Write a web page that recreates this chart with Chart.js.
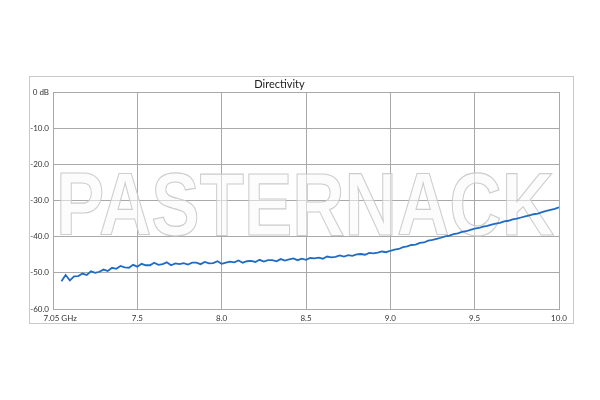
<!DOCTYPE html>
<html>
<head>
<meta charset="utf-8">
<script src="https://cdn.jsdelivr.net/npm/chart.js@4/dist/chart.umd.min.js"></script>
<style>
  html,body{margin:0;padding:0;background:#fff;}
  canvas{display:block;}
</style>
</head>
<body>
<canvas id="mychart" width="600" height="400"></canvas>
<script>
// frequency (GHz) and directivity (dB)
const freqs=[7.050,7.075,7.100,7.125,7.150,7.175,7.200,7.225,7.250,7.275,
  7.300,7.325,7.350,7.375,7.400,7.425,7.450,7.475,7.500,7.525,
  7.550,7.575,7.600,7.625,7.650,7.675,7.700,7.725,7.750,7.775,
  7.800,7.825,7.850,7.875,7.900,7.925,7.950,7.975,8.000,8.025,
  8.050,8.075,8.100,8.125,8.150,8.175,8.200,8.225,8.250,8.275,
  8.300,8.325,8.350,8.375,8.400,8.425,8.450,8.475,8.500,8.525,
  8.550,8.575,8.600,8.625,8.650,8.675,8.700,8.725,8.750,8.775,
  8.800,8.825,8.850,8.875,8.900,8.925,8.950,8.975,9.000,9.025,
  9.050,9.075,9.100,9.125,9.150,9.175,9.200,9.225,9.250,9.275,
  9.300,9.325,9.350,9.375,9.400,9.425,9.450,9.475,9.500,9.525,
  9.550,9.575,9.600,9.625,9.650,9.675,9.700,9.725,9.750,9.775,
  9.800,9.825,9.850,9.875,9.900,9.925,9.950,9.975,10.000];
const directivity=[-52.3,-50.6,-52.1,-51.0,-50.9,-50.2,-50.6,-49.6,-50.0,-49.7,
  -49.1,-49.5,-48.6,-48.9,-48.1,-48.5,-48.6,-47.8,-48.3,-47.5,
  -47.9,-47.9,-47.2,-47.8,-47.6,-47.1,-47.9,-47.4,-47.6,-47.3,
  -47.7,-47.2,-47.2,-47.6,-47.0,-47.4,-47.3,-46.8,-47.5,-47.2,
  -46.9,-47.1,-46.6,-47.2,-46.8,-46.7,-47.0,-46.4,-46.9,-46.5,
  -46.5,-46.8,-46.2,-46.6,-46.3,-46.0,-46.5,-46.1,-46.4,-45.9,
  -46.0,-45.8,-46.1,-45.5,-45.7,-45.6,-45.2,-45.5,-45.1,-45.3,
  -44.9,-44.8,-45.0,-44.5,-44.6,-44.4,-44.1,-44.3,-43.9,-43.6,
  -43.4,-42.9,-42.7,-42.3,-42.2,-41.7,-41.6,-41.1,-40.9,-40.6,
  -40.3,-39.9,-39.7,-39.3,-39.1,-38.7,-38.5,-38.1,-37.8,-37.6,
  -37.2,-37.0,-36.7,-36.4,-36.2,-35.8,-35.6,-35.2,-35.0,-34.7,
  -34.4,-34.1,-33.8,-33.6,-33.2,-32.9,-32.6,-32.3,-31.9];
const xTicks=[7.0,7.5,8.0,8.5,9.0,9.5,10.0];
const xTickLabels=['       7.05 GHz','7.5','8.0','8.5','9.0','9.5','10.0'];
const yTicks=[0,-10,-20,-30,-40,-50,-60];
const yTickLabels=['0 dB','-10.0','-20.0','-30.0','-40.0','-50.0','-60.0'];

const gridColor='#a9a9a9';

// white page, outer frame and the watermark
const framePlugin={
  id:'frame',
  beforeDraw(chart){
    const c=chart.ctx;
    c.save();
    c.fillStyle='#fff';
    c.fillRect(0,0,chart.width,chart.height);
    c.strokeStyle='#c9c9c9';
    c.lineWidth=1;
    c.strokeRect(29.5,76.5,544,247);
    c.restore();
  },
  beforeDatasetsDraw(chart){
    const c=chart.ctx;
    c.save();
    c.font='bold 89px "Liberation Sans", Arial, sans-serif';
    const w=c.measureText('PASTERNACK').width;
    c.translate(56,235);
    c.scale(498/w,1);
    c.fillStyle='rgba(250,250,250,0.55)';
    c.fillText('PASTERNACK',0,0);
    c.strokeStyle='rgba(200,200,200,0.9)';
    c.lineWidth=1.2;
    c.strokeText('PASTERNACK',0,0);
    c.restore();
  }
};

const ctx=document.getElementById('mychart').getContext('2d');
let mychart=new Chart(ctx,{
  type:'line',
  data:{
    datasets:[{
      data:freqs.map((f,i)=>({x:f,y:directivity[i]})),
      borderColor:'#1f6cc4',
      borderWidth:1.8,
      pointRadius:0,
      tension:0
    }]
  },
  options:{
    responsive:false,
    animation:false,
    layout:{padding:{left:0,right:41,top:72.8,bottom:0}},
    plugins:{
      legend:{display:false},
      tooltip:{enabled:false},
      title:{
        display:true,
        text:'Directivity',
        color:'#222',
        font:{family:'Lato, sans-serif',size:11,weight:'normal'},
        padding:{top:5,bottom:1}
      }
    },
    scales:{
      x:{
        type:'linear',
        min:7.0,max:10.0,
        afterBuildTicks(scale){scale.ticks=xTicks.map(v=>({value:v}));},
        afterFit(scale){scale.height=91;},
        ticks:{
          callback:(v)=>xTickLabels[xTicks.indexOf(v)],
          color:'#333',
          font:{family:'Lato, sans-serif',size:8},
          padding:5,maxRotation:0,autoSkip:false
        },
        grid:{color:gridColor,lineWidth:1,drawTicks:false},
        border:{color:gridColor}
      },
      y:{
        min:-60,max:0,
        afterBuildTicks(scale){scale.ticks=yTicks.map(v=>({value:v}));},
        afterFit(scale){scale.width=53;},
        ticks:{
          callback:(v)=>yTickLabels[yTicks.indexOf(v)],
          color:'#333',
          font:{family:'Lato, sans-serif',size:8},
          padding:4
        },
        grid:{color:gridColor,lineWidth:1,drawTicks:false},
        border:{color:gridColor}
      }
    }
  },
  plugins:[framePlugin]
});
</script>
</body>
</html>
